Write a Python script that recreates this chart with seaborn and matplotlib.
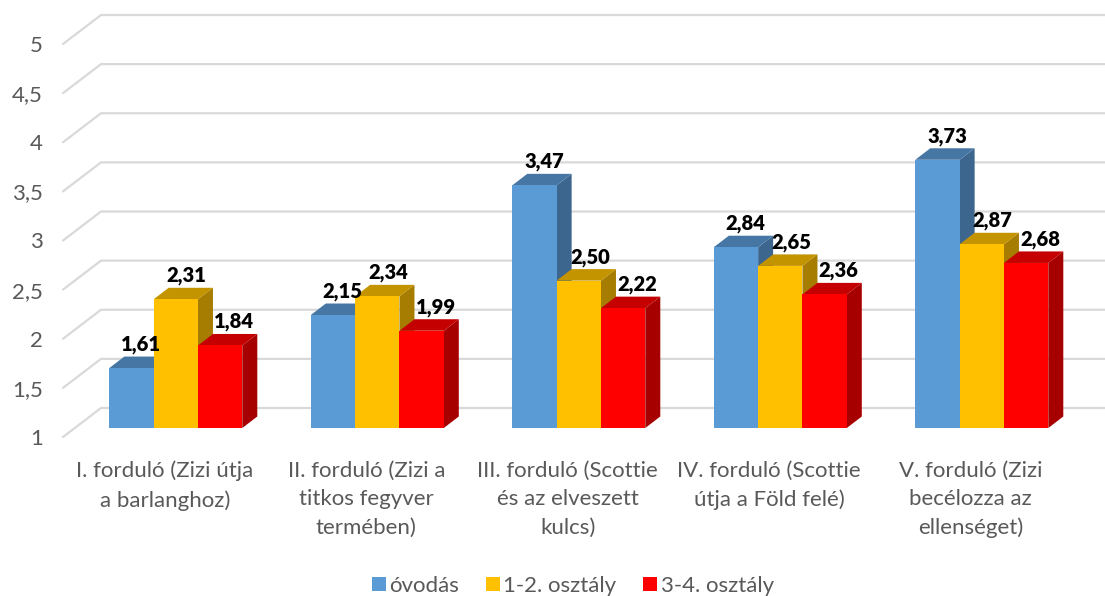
import matplotlib
matplotlib.use("Agg")
import matplotlib.pyplot as plt
import pandas as pd
import seaborn as sns
from matplotlib.patches import Polygon
from matplotlib.transforms import ScaledTranslation

# data
rounds = [
    "I. forduló (Zizi útja\na barlanghoz)",
    "II. forduló (Zizi a\ntitkos fegyver\ntermében)",
    "III. forduló (Scottie\nés az elveszett\nkulcs)",
    "IV. forduló (Scottie\nútja a Föld felé)",
    "V. forduló (Zizi\nbecélozza az\nellenséget)",
]
ovodas = [1.61, 2.15, 3.47, 2.84, 3.73]
osztaly_12 = [2.31, 2.34, 2.50, 2.65, 2.87]
osztaly_34 = [1.84, 1.99, 2.22, 2.36, 2.68]
y_ticks = [1, 1.5, 2, 2.5, 3, 3.5, 4, 4.5, 5]

front = ["#5B9BD5", "#FFC000", "#FF0000"]
top = ["#4676A3", "#C49300", "#C40000"]
side = ["#3D668F", "#A67D00", "#A60000"]
label_shift = [9.5, 11, 14]  # px to the right of the bar centre, per series

df = pd.DataFrame({"round": rounds, "óvodás": ovodas,
                   "1-2. osztály": osztaly_12, "3-4. osztály": osztaly_34})
df = df.melt(id_vars="round", var_name="group", value_name="value")

sns.set_theme(style="white")
plt.rcParams["font.family"] = ["Lato", "DejaVu Sans"]

# pixel scale of the picture
W, H = 1105, 596
PX_X = 201.5   # px per category
PX_Y = 98.25   # px per y unit
ax_left, ax_bottom = 63, 437
base_y = 428     # px of value 1 on the bars
first_x = 175.8  # px of the first category centre
depth_x = 15 / PX_X
depth_y = 11.5 / PX_Y

fig = plt.figure(figsize=(W / 100, H / 100), dpi=100)
ax = fig.add_axes([ax_left / W, (H - ax_bottom) / H, (W - ax_left) / W, ax_bottom / H])

sns.barplot(data=df, x="round", y="value", hue="group", order=rounds,
            palette=front, saturation=1, width=0.66, gap=0, ax=ax, linewidth=0)

ax.set_xlim((ax_left - first_x) / PX_X, (W - first_x) / PX_X)
ax.set_ylim(1 - (ax_bottom - base_y) / PX_Y, 1 + base_y / PX_Y)

# slanted gridlines of the 3D wall
for t in y_ticks:
    y_front = t - (ax_bottom - base_y) / PX_Y
    y_back = t + 20 / PX_Y
    ax.plot([(ax_left - first_x) / PX_X, (101 - first_x) / PX_X, (W - first_x) / PX_X],
            [y_front, y_back, y_back], color="#D9D9D9", lw=1.6, zorder=1, clip_on=False)

# 3D faces and labels
for i, container in enumerate(ax.containers):
    for bar in container:
        val = bar.get_height()
        x0 = bar.get_x()
        w = bar.get_width()
        bar.set_y(1)
        bar.set_height(val - 1)
        bar.set_zorder(3 + i * 2 + 1)
        ax.add_patch(Polygon([(x0 + w, 1), (x0 + w + depth_x, 1 + depth_y),
                              (x0 + w + depth_x, val + depth_y), (x0 + w, val)],
                             color=side[i], lw=0, zorder=3 + i * 2))
        ax.add_patch(Polygon([(x0, val), (x0 + depth_x, val + depth_y),
                              (x0 + w + depth_x, val + depth_y), (x0 + w, val)],
                             color=top[i], lw=0, zorder=3 + i * 2))
        ax.annotate(f"{val:.2f}".replace(".", ","), (x0 + w / 2, val),
                    xytext=(label_shift[i] * 0.72, 23.5 * 0.72), textcoords="offset points",
                    ha="center", va="center", fontsize=14.5, fontweight="heavy",
                    color="black", zorder=20)

# axes text
ax.set_xlabel("")
ax.set_ylabel("")
ax.set_yticks(y_ticks)
ax.set_yticklabels([str(t).replace(".", ",") for t in y_ticks])
ax.tick_params(axis="y", length=0, pad=14.5, labelsize=16, labelcolor="#595959")
ax.tick_params(axis="x", length=0, pad=17, labelsize=16, labelcolor="#595959")
sns.despine(ax=ax, left=True, bottom=True)

# tick labels sit lower than the value, x labels a bit left of the bars
for lab in ax.get_yticklabels():
    lab.set_transform(lab.get_transform() + ScaledTranslation(0, -9 / 100, fig.dpi_scale_trans))
for lab in ax.get_xticklabels():
    lab.set_linespacing(1.53)
    lab.set_transform(lab.get_transform() + ScaledTranslation(-11 / 100, 0, fig.dpi_scale_trans))

sns.move_legend(ax, "center", bbox_to_anchor=((573 - ax_left) / (W - ax_left), -149 / ax_bottom),
                ncol=3, frameon=False, title=None, fontsize=16, handlelength=0.63,
                handleheight=0.63, handletextpad=0.15, columnspacing=1.2, labelcolor="#595959")

fig.savefig("out.png", dpi=100)
